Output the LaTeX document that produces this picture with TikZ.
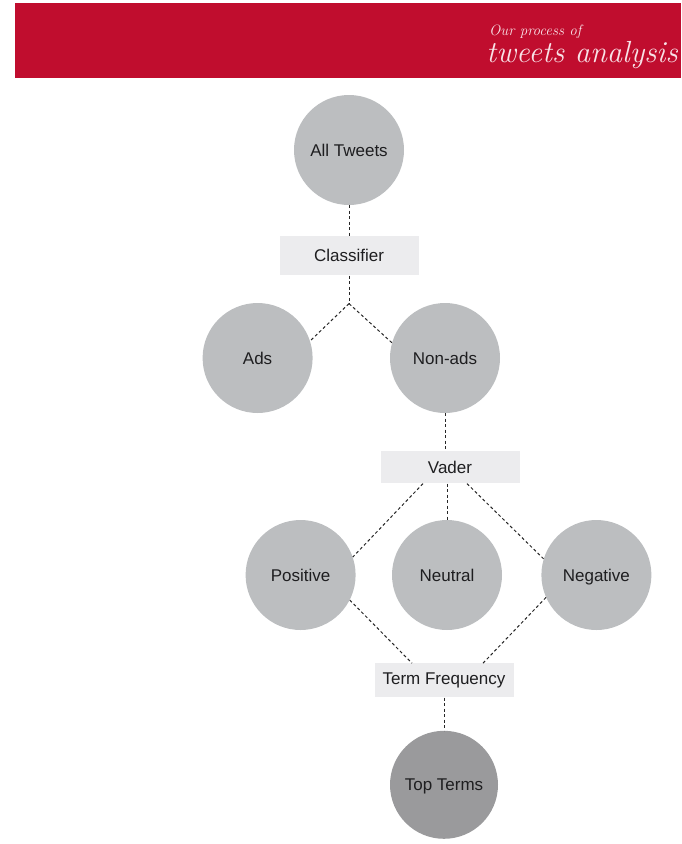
\documentclass[tikz,border=0pt]{standalone}
\usepackage{fontspec}
\usepackage{tikz}
\usepackage{xcolor}
\usetikzlibrary{positioning, calc}
\newfontfamily\labelfont{Liberation Sans}
\definecolor{bannerred}{RGB}{192, 13, 46}
\definecolor{titlepink}{RGB}{248, 226, 231}
\definecolor{bubblegray}{RGB}{188, 190, 192}
\definecolor{topgray}{RGB}{154, 154, 156}
\definecolor{stepgray}{RGB}{236, 236, 238}
\definecolor{inkgray}{RGB}{30, 30, 32}
\tikzset{
  bubble/.style={circle, fill=bubblegray, minimum size=#1, inner sep=0pt,
                 text height=12pt, text depth=0pt,
                 text=inkgray, font=\labelfont\fontsize{17pt}{20pt}\selectfont},
  bubble/.default=110pt,
  stepbox/.style={rectangle, fill=stepgray, minimum width=139pt, minimum height=#1,
                  inner sep=0pt, text=inkgray, font=\labelfont\fontsize{17pt}{20pt}\selectfont},
  stepbox/.default=34pt,
  link/.style={dash pattern=on 3pt off 2.5pt, line width=1pt, draw=black!85},
}
\begin{document}
\begin{tikzpicture}[node distance=33pt]
        \useasboundingbox (0,0) rectangle (681pt,-844pt);
        % Banner
        \fill[bannerred] (15pt,-3pt) rectangle (681pt,-78pt);
        \node[anchor=base east, inner sep=0pt, text=titlepink,
              font=\itshape\fontsize{30.5pt}{33pt}\selectfont] (title) at (678pt,-62pt)
              {tweets analysis};
        \node[anchor=base west, inner sep=0pt, text=titlepink,
              font=\itshape\fontsize{15pt}{18pt}\selectfont] (subtitle) at (489pt,-35pt)
              {Our process of};

        \node[bubble] (tweets) at (349pt,-150pt) {All Tweets};
        \node[stepbox=39pt, below=31pt of tweets] (classifier) {Classifier};
        \coordinate[below=28pt of classifier] (split);
        \node[bubble] (nonads) at (445pt,-358pt) {Non-ads};
        \node[bubble, left=77pt of nonads] (ads) {Ads};
        \node[stepbox=32pt, below=38pt of nonads, xshift=5pt] (vader) {Vader};
        \node[bubble] (neutral) at (447pt,-575pt) {Neutral};
        \node[bubble, left=36pt of neutral] (positive) {Positive};
        \node[bubble, right=39pt of neutral] (negative) {Negative};
        \node[stepbox, below=of neutral, xshift=-3pt] (tf) {Term Frequency};
        \node[bubble=108pt, fill=topgray, below=of tf] (top) {Top Terms};

        % Connectors
        \coordinate (vaderL) at ([xshift=-27pt]vader.south);
        \coordinate (vaderR) at ([xshift=17pt]vader.south);
        \coordinate (tfL) at ([xshift=-32pt]tf.north);
        \coordinate (tfR) at ([xshift=39pt]tf.north);

        \foreach \source/\target in {tweets.south/classifier.north, classifier.south/split,
                                     split/ads.18, split/nonads.164,
                                     vaderL/positive.19, vaderR/negative.163,
                                     positive.-27/tfL, negative.204/tfR,
                                     tf.south/top.north}
          \draw[link] (\source) -- (\target);
        \draw[link] (nonads.south) -- (nonads.south |- vader.north);
        \draw[link] (neutral.north |- vader.south) -- (neutral.north);
      \end{tikzpicture}
\end{document}
